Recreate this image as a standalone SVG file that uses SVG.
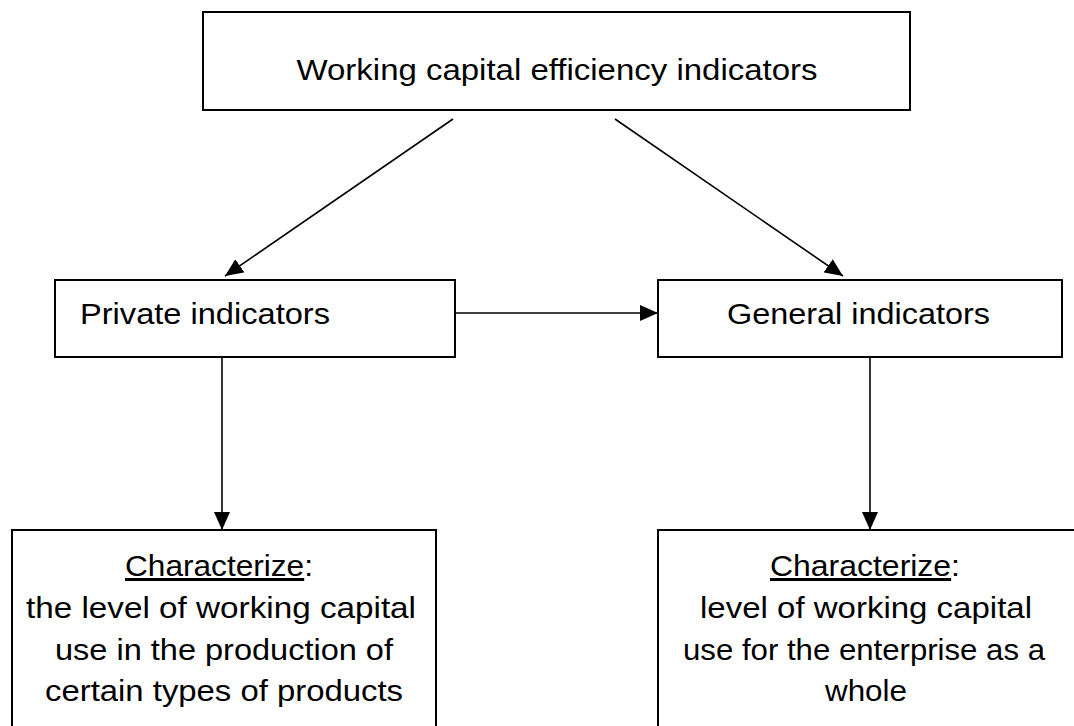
<svg xmlns="http://www.w3.org/2000/svg" width="1074" height="726" viewBox="0 0 1074 726">
<style>
.box{fill:#fff;stroke:#000;stroke-width:2}
.t{font-family:"Liberation Sans",Arial,sans-serif;font-size:30px;fill:#000}
.c{text-anchor:middle}
.con line{stroke:#000;stroke-width:1.6}
</style>
<defs>
<marker id="a" viewBox="0 0 18 16" refX="18" refY="8" markerWidth="18" markerHeight="16" markerUnits="userSpaceOnUse" orient="auto">
<path d="M0,0 L18,8 L0,16 Z" fill="#000"/>
</marker>
</defs>
<rect width="1074" height="726" fill="#fff"/>
<g id="top">
<rect class="box" x="203" y="12" width="707" height="98"/>
<text class="t c" x="557" y="80" textLength="521" lengthAdjust="spacingAndGlyphs">Working capital efficiency indicators</text>
</g>
<g id="private">
<rect class="box" x="55" y="280" width="400" height="77"/>
<text class="t" x="80" y="324" textLength="250" lengthAdjust="spacingAndGlyphs">Private indicators</text>
</g>
<g id="general">
<rect class="box" x="658" y="280" width="404" height="77"/>
<text class="t" x="727" y="324" textLength="263" lengthAdjust="spacingAndGlyphs">General indicators</text>
</g>
<g id="private-desc">
<rect class="box" x="12" y="530" width="424" height="210"/>
<text class="t c" x="219" y="576" textLength="188" lengthAdjust="spacingAndGlyphs"><tspan text-decoration="underline">Characterize</tspan>:</text>
<text class="t c" x="221" y="618" textLength="390" lengthAdjust="spacingAndGlyphs">the level of working capital</text>
<text class="t c" x="224" y="660" textLength="338" lengthAdjust="spacingAndGlyphs">use in the production of</text>
<text class="t c" x="224" y="701" textLength="358" lengthAdjust="spacingAndGlyphs">certain types of products</text>
</g>
<g id="general-desc">
<rect class="box" x="658" y="530" width="430" height="210"/>
<text class="t c" x="865" y="576" textLength="190" lengthAdjust="spacingAndGlyphs"><tspan text-decoration="underline">Characterize</tspan>:</text>
<text class="t c" x="866" y="618" textLength="332" lengthAdjust="spacingAndGlyphs">level of working capital</text>
<text class="t c" x="864" y="660" textLength="362" lengthAdjust="spacingAndGlyphs">use for the enterprise as a</text>
<text class="t c" x="866" y="701" textLength="82" lengthAdjust="spacingAndGlyphs">whole</text>
</g>
<g id="connectors" class="con">
<line x1="453" y1="119" x2="225" y2="276" marker-end="url(#a)"/>
<line x1="615" y1="119" x2="843" y2="276" marker-end="url(#a)"/>
<line x1="455" y1="313" x2="658" y2="313" marker-end="url(#a)"/>
<line x1="222" y1="357" x2="222" y2="530" marker-end="url(#a)"/>
<line x1="870" y1="357" x2="870" y2="530" marker-end="url(#a)"/>
</g>
</svg>
